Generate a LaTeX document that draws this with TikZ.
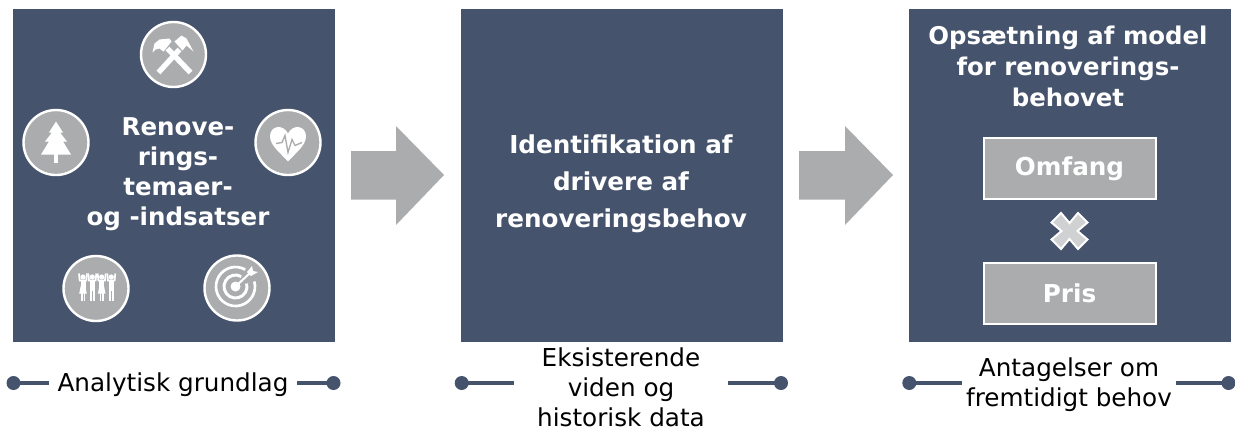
\documentclass[tikz,border=0pt]{standalone}
\usepackage{fontspec}
\setmainfont{DejaVu Sans}
\definecolor{navy}{HTML}{45546C}
\definecolor{midgrey}{HTML}{ABACAE}
\definecolor{lightgrey}{HTML}{D0D1D2}
\tikzset{
  panel/.style={fill=navy,draw=none,minimum width=322*0.75pt,minimum height=333*0.75pt,inner sep=0pt,outer sep=0pt},
  paneltext/.style={text=white,align=center,inner sep=0pt},
  caption/.style={text=black,font=\fontsize{18.5}{22.5}\selectfont,align=center,inner sep=0pt},
  factor/.style={fill=midgrey,draw=white,line width=1.5pt,minimum width=172*0.75pt,minimum height=61*0.75pt,text=white,font=\bfseries\fontsize{18.5}{22}\selectfont,inner sep=0pt},
  badge/.style={circle,fill=midgrey,draw=white,line width=1.8pt,minimum size=65*0.75pt,inner sep=0pt},
  dot/.style={circle,fill=navy,draw=none,minimum size=14*0.75pt,inner sep=0pt},
  conn/.style={draw=navy,line width=2.5pt},
  bigarrow/.style={fill=midgrey,draw=none},
  glyph/.style={fill=white,draw=none},
  glyphline/.style={draw=white,line width=4pt},
  ringline/.style={draw=white,line width=2pt},
}
\begin{document}
\begin{tikzpicture}[x=0.75pt,y=-0.75pt]
\useasboundingbox (0,0) rectangle (1235,430);
\node[panel] (p1) at (174,175.5) {};
\node[panel] (p2) at (622,175.5) {};
\node[panel] (p3) at (1069.5,175.5) {};
% big arrows
\fill[bigarrow] (351,151) -- (396,151) -- (396,126) -- (444,175) -- (396,225) -- (396,199.5) -- (351,199.5) -- cycle;
\fill[bigarrow] (799,151) -- (845,151) -- (845,126) -- (893,175) -- (845,225) -- (845,199.5) -- (799,199.5) -- cycle;
% badges
\node[badge] (b1) at (173.5,54.5) {};
\node[badge] (b2) at (56,142.5) {};
\node[badge] (b3) at (288,142.5) {};
\node[badge] (b4) at (96,288.5) {};
\node[badge] (b5) at (237,288) {};
% hammers
\begin{scope}[shift={(b1.center)}]
  \draw[glyphline] (-6,-6) -- (17,18);
  \draw[glyphline] (6,-5) -- (-15,18);
  \fill[glyph] (-21,-2) -- (-19,-11) -- (-14,-15) -- (-4,-16) -- (-2,-13) -- (-10,-3) -- (-14,-6) -- (-18,-5) -- cycle;
  \fill[glyph] (1,-13) -- (8,-19) -- (13,-16) -- (20,-3) -- (13,-9) -- (9,-4) -- cycle;
\end{scope}
% tree
\begin{scope}[shift={(b2.center)}]
  \fill[glyph] (-2,10) rectangle (2,20);
  \fill[glyph] (0,-21) -- (7,-10) -- (4,-10) -- (11,-1) -- (7,-1) -- (15,12) -- (-15,12) -- (-7,-1) -- (-11,-1) -- (-4,-10) -- (-7,-10) -- cycle;
\end{scope}
% heart
\begin{scope}[shift={(b3.center)}]
  \fill[glyph] (0,19) .. controls (-7,11) and (-18,3) .. (-18,-6) .. controls (-18,-17) and (-5,-19) .. (0,-9) .. controls (5,-19) and (18,-17) .. (18,-6) .. controls (18,3) and (7,11) .. (0,19) -- cycle;
  \draw[midgrey,line width=1pt] (-12,1) -- (-6,0) -- (-3,-7) -- (0,10) -- (4,-3) -- (7,3) -- (14,0);
\end{scope}
% people
\begin{scope}[shift={(b4.center)}]
  \foreach \dx/\dress in {-13/1,-3.7/0,5.7/1,15.3/0}{
    \begin{scope}[shift={(\dx,0)}]
      \fill[glyph] (0,-11.5) circle (2.6);
      \draw[white,line width=1.3pt] (-4,-15) -- (-3.3,-8) -- (3.3,-8) -- (4,-15);
      \fill[glyph] (-2.5,-8) rectangle (2.5,2);
      \ifnum\dress=1
        \fill[glyph] (-2.2,-3) -- (2.2,-3) -- (3.8,5) -- (-3.8,5) -- cycle;
      \fi
      \fill[glyph] (-2.2,2) rectangle (-0.5,12);
      \fill[glyph] (0.5,2) rectangle (2.2,12);
    \end{scope}
  }
\end{scope}
% target
\begin{scope}[shift={(b5.center)}]
  \draw[ringline] (-1.5,-1.5) ++(-60:19.5) arc (-60:-375:19.5);
  \draw[ringline,line width=2.2pt] (-1.5,-1.5) ++(-60:11.5) arc (-60:-375:11.5);
  \fill[glyph] (-1.5,-1.5) circle (5);
  \draw[white,line width=1.5pt] (-1.5,-1.5) -- (13,-15);
  \fill[glyph] (10,-16) -- (15,-22) -- (16,-17) -- (21,-16) -- (14,-12) -- cycle;
\end{scope}
% texts
\node[paneltext,font=\bfseries\fontsize{18.4}{22.5}\selectfont] (t1) at (178,174) {Renove-\\rings-\\temaer-\\og -indsatser};
\node[paneltext,font=\bfseries\fontsize{18.5}{27.75}\selectfont] (t2) at (621,184) {Identifikation af\\drivere af\\renoveringsbehov};
\node[paneltext,font=\bfseries\fontsize{18.3}{23.25}\selectfont] (t3) at (1068,66) {Opsætning af model\\for renoverings-\\behovet};
\node[factor] (om) at (1069.5,168.5) {Omfang};
\node[factor] (pr) at (1069.5,293.5) {Pris};
\coordinate (x0) at (1069.5,231);
\begin{scope}[shift={(x0)}]
  \draw[fill=lightgrey,draw=white,line width=1.5pt] (-18,-8.5) -- (-8.5,-18) -- (0,-8) -- (8.5,-18) -- (18,-8.5) -- (8,0) -- (18,8.5) -- (8.5,18) -- (0,8) -- (-8.5,18) -- (-18,8.5) -- (-8,0) -- cycle;
\end{scope}
% captions
\node[caption] (c1) at (173,385) {Analytisk grundlag};
\node[caption] (c2) at (621,387) {Eksisterende\\viden og\\historisk data};
\node[caption] (c3) at (1069,385) {Antagelser om\\fremtidigt behov};
\node[dot] (d1a) at (13.5,383) {};
\node[dot] (d1b) at (333.5,383) {};
\node[dot] (d2a) at (461.7,383) {};
\node[dot] (d2b) at (781,383) {};
\node[dot] (d3a) at (909.3,383) {};
\node[dot] (d3b) at (1228.5,383) {};
\coordinate (e1a) at (49,383);
\coordinate (e1b) at (297,383);
\coordinate (e2a) at (514,383);
\coordinate (e2b) at (728,383);
\coordinate (e3a) at (962,383);
\coordinate (e3b) at (1176,383);
\draw[conn] (d1a.center) -- (e1a);
\draw[conn] (d1b.center) -- (e1b);
\draw[conn] (d2a.center) -- (e2a);
\draw[conn] (d2b.center) -- (e2b);
\draw[conn] (d3a.center) -- (e3a);
\draw[conn] (d3b.center) -- (e3b);
\end{tikzpicture}
\end{document}
